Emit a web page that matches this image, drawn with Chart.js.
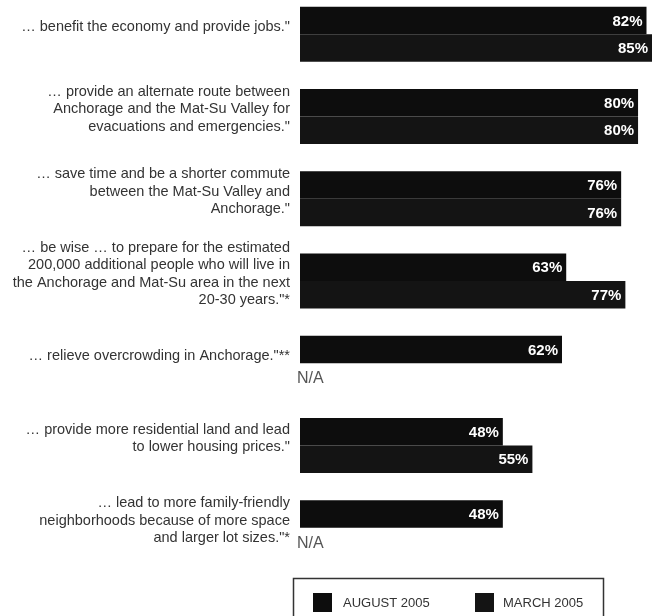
<!DOCTYPE html>
<html>
<head>
<meta charset="utf-8">
<script src="https://cdn.jsdelivr.net/npm/chart.js@4.4.1/dist/chart.umd.min.js"></script>
<style>
  html, body { margin: 0; padding: 0; background: #fff; overflow: hidden; }
  #wrap { position: absolute; left: 0; top: -7px; width: 652px; height: 630px; }
</style>
</head>
<body>
<div id="wrap"><canvas id="chart" width="652" height="630"></canvas></div>
<script>
// statements, one entry per group (lines as printed)
var categories = [
  ['\u2026 benefit the economy and provide jobs."'],
  ['\u2026 provide an alternate route between', 'Anchorage and the Mat-Su Valley for', 'evacuations and emergencies."'],
  ['\u2026 save time and be a shorter commute', 'between the Mat-Su Valley and', 'Anchorage."'],
  ['\u2026 be wise \u2026 to prepare for the estimated', '200,000 additional people who will live in', 'the Anchorage and Mat-Su area in the next', '20-30 years."*'],
  ['\u2026 relieve overcrowding in Anchorage."**'],
  ['\u2026 provide more residential land and lead', 'to lower housing prices."'],
  ['\u2026 lead to more family-friendly', 'neighborhoods because of more space', 'and larger lot sizes."*']
];
var august2005 = [82, 80, 76, 63, 62, 48, 48];
var march2005 = [85, 80, 76, 77, null, 55, null];
var seriesNames = ['AUGUST 2005', 'MARCH 2005'];

document.addEventListener('DOMContentLoaded', function(){
  var ctx = document.getElementById('chart');
  if (!ctx || !window.Chart) return;

  // white % at the bar ends, grey N/A where march has no value
  var barLabels = {
    id: 'barLabels',
    afterDatasetsDraw: function(chart){
      var c = chart.ctx, area = chart.chartArea;
      c.save();
      c.textBaseline = 'middle';
      chart.data.datasets.forEach(function(ds, di){
        var meta = chart.getDatasetMeta(di);
        meta.data.forEach(function(el, i){
          var v = ds.data[i];
          var y = el.y;
          if (!isFinite(y)) {
            var prev = chart.getDatasetMeta(di - 1).data[i];
            y = prev.y + prev.height;
          }
          if (v === null || v === undefined) {
            c.fillStyle = '#555';
            c.font = '16px "Liberation Sans", Arial, sans-serif';
            c.textAlign = 'left';
            c.fillText('N/A', area.left - 3, y + 2);
            return;
          }
          c.fillStyle = '#fff';
          c.font = 'bold 15px "Liberation Sans Narrow", "Liberation Sans", Arial, sans-serif';
          c.textAlign = 'right';
          var right = Math.min(el.x, area.right);
          c.fillText(v + '%', right - 4, y + 1);
        });
      });
      c.restore();
    }
  };

  // boxed legend under the bars
  var boxLegend = {
    id: 'boxLegend',
    afterDraw: function(chart){
      var c = chart.ctx;
      c.save();
      c.strokeStyle = '#333';
      c.lineWidth = 1.5;
      c.strokeRect(293.5, 585.5, 310, 60);
      var items = [{ x: 313, tx: 343 }, { x: 475, tx: 503 }];
      c.font = '13px "Liberation Sans", Arial, sans-serif';
      c.textBaseline = 'middle';
      c.textAlign = 'left';
      items.forEach(function(it, k){
        c.fillStyle = chart.data.datasets[k].backgroundColor;
        c.fillRect(it.x, 600, 19, 19);
        c.fillStyle = '#333';
        c.fillText(seriesNames[k], it.tx, 610);
      });
      c.restore();
    }
  };

  new Chart(ctx, {
    type: 'bar',
    data: {
      labels: categories,
      datasets: [
        { label: seriesNames[0], data: august2005, backgroundColor: '#0d0d0d' },
        { label: seriesNames[1], data: march2005, backgroundColor: '#141414' }
      ]
    },
    options: {
      indexAxis: 'y',
      responsive: false,
      devicePixelRatio: 1,
      animation: false,
      categoryPercentage: 0.668,
      barPercentage: 1.0,
      layout: { padding: { top: 0, right: 0, bottom: 54, left: 0 } },
      plugins: { legend: { display: false }, tooltip: { enabled: false } },
      scales: {
        x: { display: false, min: 0, max: 83.3 },
        y: {
          grid: { display: false, drawTicks: false },
          border: { display: false },
          afterFit: function(scale){
            scale.width = 300;
            scale.paddingTop = 0;
            scale.paddingBottom = 0;
          },
          ticks: {
            color: '#333',
            padding: 10,
            labelOffset: -7,
            font: { family: '"Liberation Sans", Arial, sans-serif', size: 14.5, lineHeight: 1.2 }
          }
        }
      }
    },
    plugins: [barLabels, boxLegend]
  });
});
</script>
</body>
</html>
